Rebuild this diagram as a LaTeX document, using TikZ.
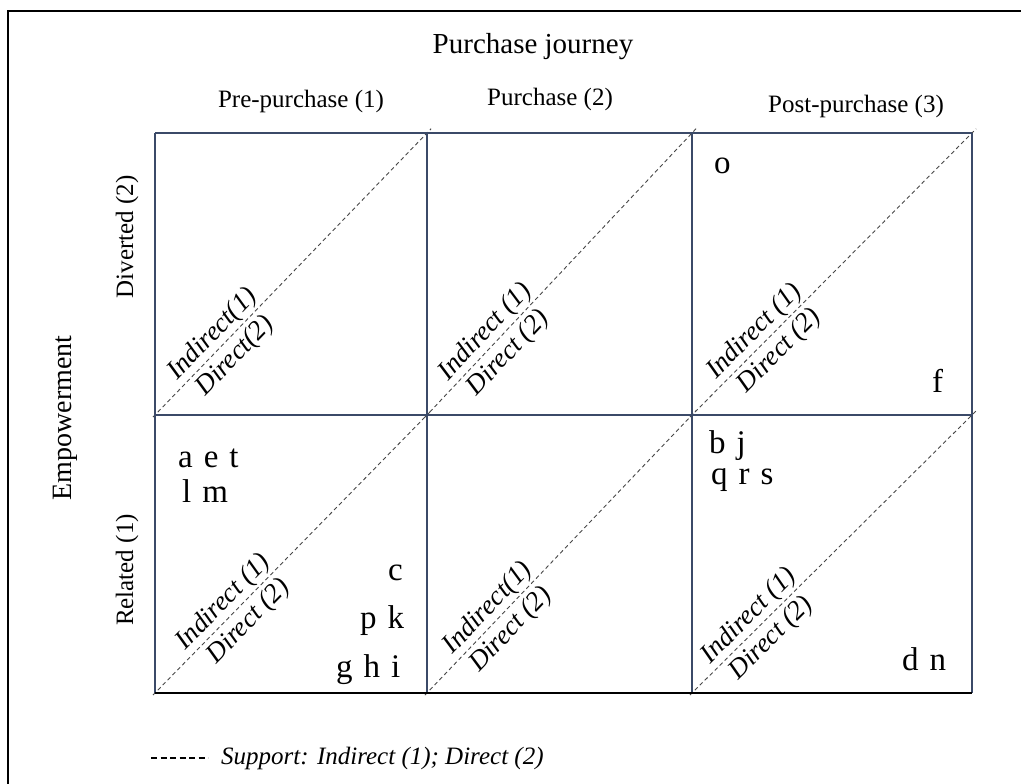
\documentclass[tikz,border=0pt]{standalone}
\usepackage{fontspec}
\setmainfont{Liberation Serif}
\usetikzlibrary{positioning}
\definecolor{gridblue}{HTML}{3B4A68}
\definecolor{diaggray}{HTML}{474747}
\newcommand\casefont{\fontsize{33}{38}\selectfont\spaceskip=11pt\relax}

\begin{document}
\begin{tikzpicture}[x=1pt, y=-1pt,
  gridline/.style={draw=gridblue, line width=2.4pt},
  diagline/.style={draw=diaggray, line width=0.9pt, dash pattern=on 4pt off 3pt,
    shorten <=-3pt, shorten >=-6pt},
  diaglabel/.style={font=\fontsize{27}{31}\selectfont\itshape, sloped, inner sep=1.5pt},
  header/.style={font=\fontsize{25}{30}\selectfont, inner sep=0pt},
  sidelabel/.style={font=\fontsize{25}{30}\selectfont, rotate=90, inner sep=0pt},
  letters/.style={font=\casefont, inner sep=0pt, anchor=base west}
]

\useasboundingbox (0,0) rectangle (1021,784);

%========================
% Outer frame
%========================
\draw[line width=2.4pt] (8,784) -- (8,11) -- (1021,11);

%========================
% Grid corners
%========================
\coordinate (c0t) at (155,133); \coordinate (c1t) at (427,133);
\coordinate (c2t) at (692,133); \coordinate (c3t) at (972,133);
\coordinate (c0m) at (155,415); \coordinate (c1m) at (427,415);
\coordinate (c2m) at (692,415); \coordinate (c3m) at (972,415);
\coordinate (c0b) at (155,693); \coordinate (c1b) at (427,693);
\coordinate (c2b) at (692,693); \coordinate (c3b) at (972,693);

%========================
% Headings
%========================
\node[header, font=\fontsize{29}{34}\selectfont] (journey) at (533,47) {Purchase journey};
\node[header] (prepur) at (301,101) {Pre-purchase (1)};
\node[header] (pur) at (550,99) {Purchase (2)};
\node[header] (postpur) at (856,106) {Post-purchase (3)};

\node[sidelabel, font=\fontsize{28}{32}\selectfont] (empower) at (65,418) {Empowerment};
\node[sidelabel] (diverted) at (127,237) {Diverted (2)};
\node[sidelabel] (related) at (127,570) {Related (1)};

%========================
% Diagonals (support)
%========================
\draw[diagline] (c0m) -- (c1t)
  node[diaglabel, pos=.25, above] (ind-ul) {Indirect(1)}
  node[diaglabel, pos=.25, below=3pt] (dir-ul) {Direct(2)};
\draw[diagline] (c1m) -- (c2t)
  node[diaglabel, pos=.26, above] (ind-um) {Indirect (1)}
  node[diaglabel, pos=.26, below=3pt] (dir-um) {Direct (2)};
\draw[diagline] (c2m) -- (c3t)
  node[diaglabel, pos=.26, above] (ind-ur) {Indirect (1)}
  node[diaglabel, pos=.27, below=3pt] (dir-ur) {Direct (2)};
\draw[diagline] (c0b) -- (c1m)
  node[diaglabel, pos=.29, above] (ind-ll) {Indirect (1)}
  node[diaglabel, pos=.30, below=3pt] (dir-ll) {Direct (2)};
\draw[diagline] (c1b) -- (c2m)
  node[diaglabel, pos=.27, above] (ind-lm) {Indirect(1)}
  node[diaglabel, pos=.27, below=3pt] (dir-lm) {Direct (2)};
\draw[diagline] (c2b) -- (c3m)
  node[diaglabel, pos=.24, above] (ind-lr) {Indirect (1)}
  node[diaglabel, pos=.24, below=3pt] (dir-lr) {Direct (2)};

%========================
% Grid
%========================
\draw[gridline] (c0t) -- (c3t);
\draw[gridline] (c0m) -- (c3m);
\draw[gridline] (c0t) -- (c0b);
\draw[gridline] (c1t) -- (c1b);
\draw[gridline] (c2t) -- (c2b);
\draw[gridline] (c3t) -- (c3b);
\draw[gridline, draw=black, line width=2.8pt] (c0b) -- (c3b);

%========================
% Cases
%========================
\node[letters] (aet) at (178,467) {a e t};
\node[letters] (lm) at (182,502) {l m};
\node[letters] (c) at (388,580) {c};
\node[letters] (pk) at (360,628) {p k};
\node[letters] (ghi) at (336,677) {g h i};

\node[letters] (o) at (714,173) {o};
\node[letters] (f) at (932,392) {f};

\node[letters] (bj) at (709,453) {b j};
\node[letters] (qrs) at (711,484) {q r s};
\node[letters] (dn) at (902,670) {d n};

%========================
% Legend
%========================
\coordinate (legstart) at (151,758);
\coordinate (legstop) at (208,758);
\draw[line width=2.2pt, dash pattern=on 6pt off 3.5pt] (legstart) -- (legstop);
\node[font=\fontsize{25}{29}\selectfont\itshape, anchor=west, inner sep=0pt]
  (legend) at (221,758) {Support: Indirect (1); Direct (2)};

\end{tikzpicture}
\end{document}
